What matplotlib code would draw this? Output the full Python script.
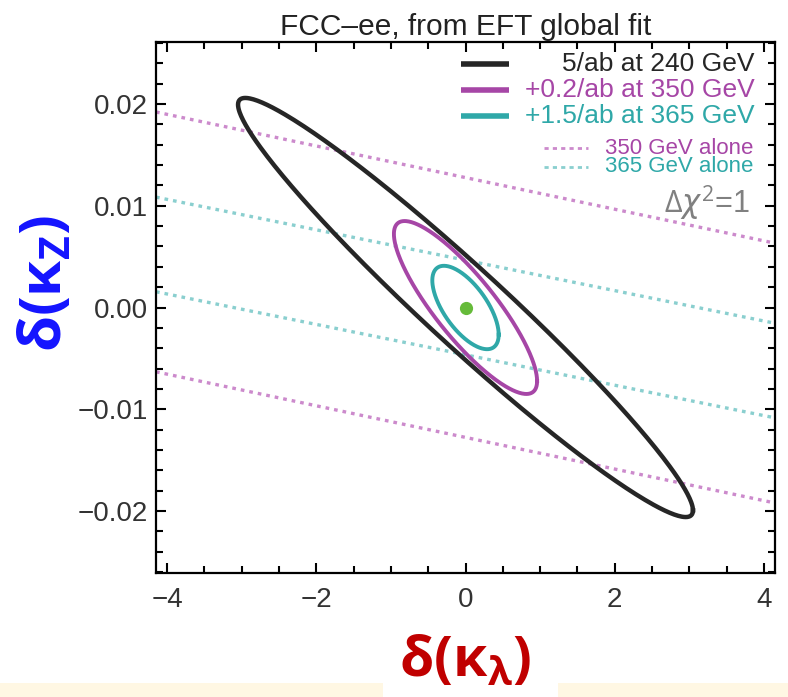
import numpy as np
import matplotlib
matplotlib.use("Agg")
import matplotlib.pyplot as plt
from matplotlib.patches import Rectangle

plt.rcParams['font.family'] = ['Liberation Sans', 'DejaVu Sans']
plt.rcParams['mathtext.fontset'] = 'custom'
plt.rcParams['mathtext.bf'] = 'Open Sans:bold'
plt.rcParams['mathtext.rm'] = 'Open Sans'

# Delta chi^2 = 1 contours: (sigma_kappa_lambda, sigma_kappa_Z, correlation)
contour_labels = ["5/ab at 240 GeV", "+0.2/ab at 350 GeV", "+1.5/ab at 365 GeV"]
sigma_kl = [3.05, 0.96, 0.445]
sigma_kz = [0.0206, 0.0085, 0.0041]
rho = [-0.968, -0.85, -0.65]
contour_colors = ["#262626", "#a646a6", "#2fa8a8"]

# Single-energy bands: kappa_Z = slope * kappa_lambda +/- half_width
band_labels = ["350 GeV alone", "365 GeV alone"]
band_slope = [-0.001554, -0.001494]
band_half = [0.01277, 0.00465]
band_colors = ["#cc8acc", "#8acfcf"]

best_fit = (0.0, 0.0)

fig = plt.figure(figsize=(7.88, 6.97), dpi=100)
ax = fig.add_axes([156/788, 1-573/697, (775-156)/788, (573-42)/697])
ax.set_xlim(-4.15, 4.15)
ax.set_ylim(-0.0261, 0.0261)

xs = np.linspace(-4.15, 4.15, 200)
for s, h, c in zip(band_slope, band_half, band_colors):
    for sign in (1, -1):
        ax.plot(xs, s*xs + sign*h, color=c, lw=2.4, ls=(0, (1.1, 1.5)), zorder=1)

t = np.linspace(0, 2*np.pi, 400)
for sx, sy, r, c in zip(sigma_kl, sigma_kz, rho, contour_colors):
    x = sx*np.cos(t)
    y = sy*(r*np.cos(t) + np.sqrt(1-r**2)*np.sin(t))
    lw = 3.2 if c == contour_colors[0] else 2.8
    ax.plot(x, y, color=c, lw=lw, zorder=3)

ax.plot([best_fit[0]], [best_fit[1]], 'o', color="#66bb3a", ms=9.5, mec='none', zorder=4)

ax.set_xticks([-4, -2, 0, 2, 4])
ax.set_xticks(np.arange(-4, 4.01, 0.5), minor=True)
ax.set_yticks([-0.02, -0.01, 0.0, 0.01, 0.02])
ax.set_yticks(np.arange(-0.026, 0.0261, 0.002), minor=True)
ax.set_xticklabels(["\u22124", "\u22122", "0", "2", "4"])
ax.set_yticklabels(["\u22120.02", "\u22120.01", "0.00", "0.01", "0.02"])
ax.tick_params(which='both', direction='in', top=True, right=True, width=1.5,
               labelsize=20, labelcolor="#333333")
ax.tick_params(axis='x', pad=10)
ax.tick_params(axis='y', pad=6)
ax.tick_params(which='major', length=7)
ax.tick_params(which='minor', length=5)
for sp in ax.spines.values():
    sp.set_linewidth(1.6)

ax.set_title("FCC\u2013ee, from EFT global fit", fontsize=21.5, color="#222222", pad=5)

# legend drawn in axes coordinates
tr = ax.transAxes
def fx(px):
    return (px-156)/(775-156)
def fy(py):
    return (573-py)/(573-42)

rows_y = [64, 90, 116]
for lab, c, py in zip(contour_labels, contour_colors, rows_y):
    ax.plot([fx(461), fx(509)], [fy(py), fy(py)], transform=tr, color=c, lw=4, solid_capstyle='butt', zorder=5)
    ax.text(fx(755), fy(py), lab, transform=tr, ha='right', va='center', fontsize=19, color=c)

small_y = [148, 167]
for lab, c, py in zip(band_labels, band_colors, small_y):
    ax.plot([fx(544), fx(588)], [fy(py), fy(py)], transform=tr, color=c, lw=2.0, ls=(0, (1.5, 1.5)), zorder=5)
    tc = "#a646a6" if c == band_colors[0] else "#2fa8a8"
    ax.text(fx(753), fy(py), lab, transform=tr, ha='right', va='center', fontsize=16, color=tc)

ax.text(fx(750), fy(203), r"$\Delta\chi^2$=1", transform=tr, ha='right', va='center',
        fontsize=22, color="#808080")

ax.set_xlabel(r"$\mathbf{\delta(\kappa_\lambda)}$", fontsize=40, color="#c00000")
ax.set_ylabel(r"$\mathbf{\delta(\kappa_Z)}$", fontsize=42, color="#1414ff")
ax.xaxis.set_label_coords(0.5, fy(634))
ax.yaxis.set_label_coords(fx(74), fy(283))

# cream strip along the bottom edge
fig.patches.append(Rectangle((0, 0), 383/788, 14/697, transform=fig.transFigure,
                             facecolor="#fff7e3", edgecolor='none', zorder=0))
fig.patches.append(Rectangle((558/788, 0), 230/788, 14/697, transform=fig.transFigure,
                             facecolor="#fff7e3", edgecolor='none', zorder=0))

fig.savefig("out.png", dpi=100)
